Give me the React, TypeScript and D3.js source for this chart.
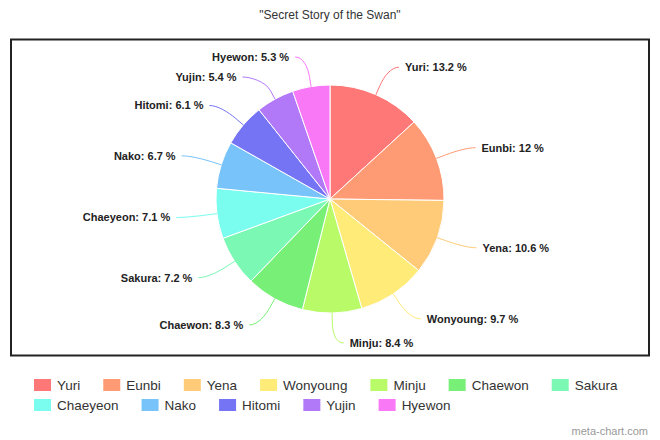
import { useRef, useEffect } from "react";
import * as d3 from "d3";

const members = [
  "Yuri", "Eunbi", "Yena", "Wonyoung", "Minju", "Chaewon",
  "Sakura", "Chaeyeon", "Nako", "Hitomi", "Yujin", "Hyewon",
];
const shares = [13.2, 12, 10.6, 9.7, 8.4, 8.3, 7.2, 7.1, 6.7, 6.1, 5.4, 5.3];
const colors = [
  "#ff7878", "#ff9b74", "#ffcb78", "#ffeb78", "#b8fa68", "#78f078",
  "#7af8b4", "#7afcee", "#78c4fa", "#7474f4", "#b178f8", "#f878f6",
];
const chartTitle = "\"Secret Story of the Swan\"";

const Chart = () => {
  const chartRef = useRef<HTMLDivElement>(null);

  useEffect(() => {
    const width = 660;
    const height = 440;
    const cx = 330;
    const cy = 199;
    const radius = 114;
    const labelDistance = 30;

    const svg = d3
      .select(chartRef.current)
      .append("svg")
      .attr("width", width)
      .attr("height", height)
      .style("position", "absolute")
      .style("left", "0px")
      .style("top", "0px")
      .style("background", "#fff");

    svg
      .append("text")
      .attr("x", cx)
      .attr("y", 19)
      .attr("text-anchor", "middle")
      .attr("font-family", "'Liberation Sans', Arial, sans-serif")
      .attr("font-size", 12)
      .attr("fill", "#333")
      .text(chartTitle);

    svg
      .append("rect")
      .attr("x", 11)
      .attr("y", 39.5)
      .attr("width", 638)
      .attr("height", 316)
      .attr("fill", "none")
      .attr("stroke", "#222")
      .attr("stroke-width", 2);

    const pie = d3
      .pie<number>()
      .sort(null)
      .value(d => d);
    const arcs = pie(shares);
    const arc = d3.arc<d3.PieArcDatum<number>>().innerRadius(0).outerRadius(radius);

    const g = svg.append("g").attr("transform", `translate(${cx},${cy})`);
    g.selectAll("path.slice")
      .data(arcs)
      .enter()
      .append("path")
      .attr("class", "slice")
      .attr("d", arc)
      .attr("fill", (_d, i) => colors[i])
      .attr("stroke", "#fff")
      .attr("stroke-width", 1);

    // label placement: natural spot on a bigger circle, then a small overlap pass per side
    const R = radius + labelDistance;
    const labels = arcs.map((a, i) => {
      const mid = (a.startAngle + a.endAngle) / 2;
      const sign = Math.sin(mid) >= 0 ? 1 : -1;
      return { i, mid, sign, y: -R * Math.cos(mid) };
    });
    const minGap = 20;
    const maxY = 148;
    [1, -1].forEach(side => {
      const group = labels.filter(l => l.sign === side).sort((a, b) => a.y - b.y);
      for (let k = 1; k < group.length; k++) {
        if (group[k].y - group[k - 1].y < minGap) group[k].y = group[k - 1].y + minGap;
      }
      if (group.length && group[group.length - 1].y > maxY) {
        group[group.length - 1].y = maxY;
        for (let k = group.length - 2; k >= 0; k--) {
          if (group[k + 1].y - group[k].y < minGap) group[k].y = group[k + 1].y - minGap;
        }
      }
    });

    labels.forEach(l => {
      const dy = Math.min(Math.abs(l.y), R);
      const px = l.sign * Math.sqrt(R * R - dy * dy);
      const textX = px + l.sign * 17;
      const endX = textX - l.sign * 6;
      const bx = radius * Math.sin(l.mid);
      const by = -radius * Math.cos(l.mid);
      const b1x = (radius + 10) * Math.sin(l.mid);
      const b1y = -(radius + 10) * Math.cos(l.mid);
      const c1x = (radius + 20) * Math.sin(l.mid);
      const c1y = -(radius + 20) * Math.cos(l.mid);
      const path = `M${bx},${by}L${b1x},${b1y}C${c1x},${c1y} ${endX - l.sign * 8},${l.y} ${endX},${l.y}`;
      g.append("path")
        .attr("d", path)
        .attr("fill", "none")
        .attr("stroke", colors[l.i])
        .attr("stroke-width", 1);
      g.append("text")
        .attr("x", textX)
        .attr("y", l.y)
        .attr("dy", "0.35em")
        .attr("text-anchor", l.sign > 0 ? "start" : "end")
        .attr("font-family", "'Liberation Sans', Arial, sans-serif")
        .attr("font-size", 11)
        .attr("font-weight", "bold")
        .attr("fill", "#222")
        .text(`${members[l.i]}: ${shares[l.i]} %`);
    });

    // legend, flowing left to right
    const legend = svg.append("g");
    let x = 34;
    let row = 0;
    members.forEach((name, i) => {
      const item = legend.append("g");
      const txt = item
        .append("text")
        .attr("font-family", "'Liberation Sans', Arial, sans-serif")
        .attr("font-size", 13.5)
        .attr("fill", "#333")
        .text(name);
      const w = (txt.node() as SVGTextElement).getComputedTextLength();
      if (x + 23 + w > 640) {
        x = 34;
        row += 1;
      }
      const baseY = 390 + row * 20;
      txt.attr("x", x + 23).attr("y", baseY);
      item
        .append("rect")
        .attr("x", x)
        .attr("y", baseY - 11)
        .attr("width", 17)
        .attr("height", 12)
        .attr("fill", colors[i]);
      x += 23 + w + 23;
    });

    svg
      .append("text")
      .attr("x", 648)
      .attr("y", 435)
      .attr("text-anchor", "end")
      .attr("font-family", "'Liberation Sans', Arial, sans-serif")
      .attr("font-size", 11)
      .attr("fill", "#999")
      .text("meta-chart.com");

    return () => {
      svg.remove();
    };
  }, []);

  return <div ref={chartRef}></div>;
};

export default function App() {
  return <Chart />;
}
